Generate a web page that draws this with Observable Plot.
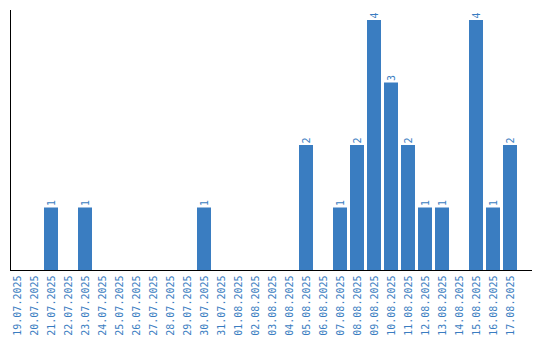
<!DOCTYPE html>
<html>
<head>
<meta charset="utf-8">
<script src="https://cdn.jsdelivr.net/npm/d3@7"></script>
<script src="https://cdn.jsdelivr.net/npm/@observablehq/plot@0.6"></script>
<style>
  html, body { margin: 0; padding: 0; background: #fff; }
</style>
</head>
<body>
<div id="chart"></div>
<script>
const dates = ["19.07.2025","20.07.2025","21.07.2025","22.07.2025","23.07.2025","24.07.2025","25.07.2025","26.07.2025","27.07.2025","28.07.2025","29.07.2025","30.07.2025","31.07.2025","01.08.2025","02.08.2025","03.08.2025","04.08.2025","05.08.2025","06.08.2025","07.08.2025","08.08.2025","09.08.2025","10.08.2025","11.08.2025","12.08.2025","13.08.2025","14.08.2025","15.08.2025","16.08.2025","17.08.2025"];
const counts = [0,0,1,0,1,0,0,0,0,0,0,1,0,0,0,0,0,2,0,1,2,4,3,2,1,1,0,4,1,2];

const data = dates.map((d, i) => ({date: d, count: counts[i]}));
const nonZero = data.filter(d => d.count > 0);
const blue = "#3a7dc1";
const mono = "DejaVu Sans Mono";

const chart = Plot.plot({
  width: 540,
  height: 340,
  marginLeft: 10,
  marginRight: 9,
  marginTop: 10,
  marginBottom: 70,
  style: {background: "#fff"},
  x: {domain: dates, range: [10, 517], paddingInner: 3/17, paddingOuter: 0, align: 0, label: null},
  y: {domain: [0, 4.16], axis: null},
  marks: [
    Plot.barY(nonZero, {x: "date", y: "count", fill: blue}),
    Plot.text(nonZero, {x: "date", y: "count", text: d => String(d.count), rotate: -90, textAnchor: "start", dy: -2, fill: blue, fontFamily: mono, fontSize: 10}),
    Plot.axisX({tickSize: 0, tickPadding: 5, tickRotate: -90, fill: blue, fontFamily: mono, fontSize: 10, label: null}),
    Plot.frame({anchor: "left", stroke: "#000"}),
    Plot.frame({anchor: "bottom", stroke: "#000"})
  ]
});
document.getElementById("chart").appendChild(chart);
</script>
</body>
</html>
